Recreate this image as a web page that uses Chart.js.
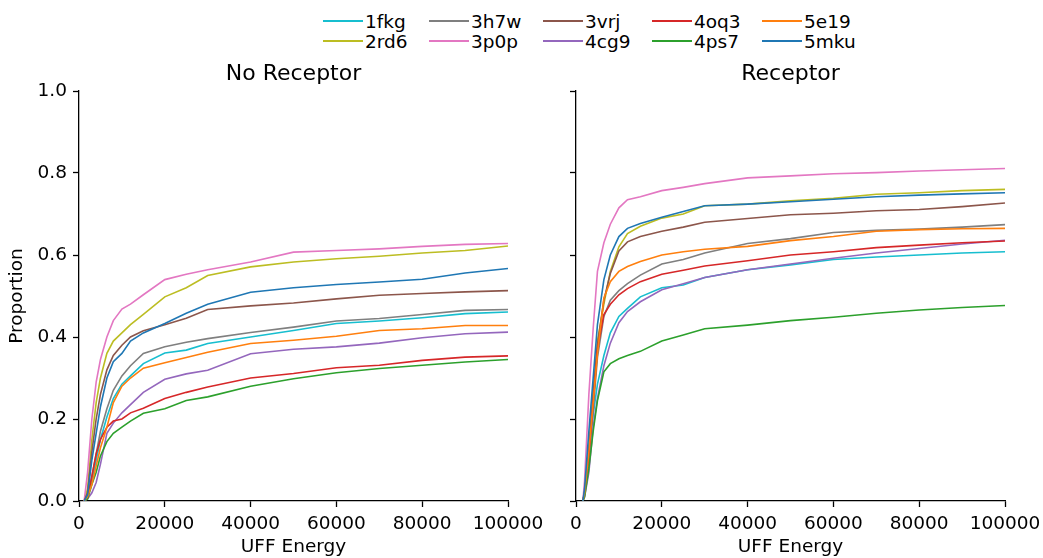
<!DOCTYPE html>
<html>
<head>
<meta charset="utf-8">
<script src="https://cdn.jsdelivr.net/npm/chart.js@4.4.1/dist/chart.umd.min.js"></script>
<style>
  html, body { margin:0; padding:0; background:#fff; }
  body { width:1043px; height:558px; position:relative; overflow:hidden; font-family:'DejaVu Sans', sans-serif; }
  .cv { position:absolute; }
  #legend { position:absolute; left:0; top:0; width:1043px; height:55px; }
  .lg { position:absolute; display:flex; align-items:center; height:20px; font-size:18.5px; color:#000; }
  .lg i { display:block; width:40px; height:2px; margin-right:2px; }
</style>
</head>
<body>
<div id="legend"></div>
<div class="cv" style="left:0;top:55px;width:560px;height:503px;"><canvas id="noRec"></canvas></div>
<div class="cv" style="left:545px;top:55px;width:520px;height:503px;"><canvas id="rec"></canvas></div>
<script>
const names  = ['1fkg','2rd6','3h7w','3p0p','3vrj','4cg9','4oq3','4ps7','5e19','5mku'];
const colors = ['#17becf','#bcbd22','#7f7f7f','#e377c2','#8c564b','#9467bd','#d62728','#2ca02c','#ff7f0e','#1f77b4'];

const energyNoRec = [1200,2000,3000,4000,5000,6500,8000,10000,12000,15000,20000,25000,30000,40000,50000,60000,70000,80000,90000,100000];
const energyRec   = [1600,2000,3000,4000,5000,6500,8000,10000,12000,15000,20000,25000,30000,40000,50000,60000,70000,80000,90000,100000];

// No Receptor
const noRec_1fkg = [0,0.01,0.05,0.10,0.15,0.205,0.25,0.285,0.305,0.335,0.361,0.368,0.384,0.400,0.416,0.433,0.439,0.447,0.457,0.461];
const noRec_2rd6 = [0,0.03,0.15,0.24,0.30,0.36,0.39,0.41,0.43,0.455,0.498,0.52,0.55,0.571,0.583,0.591,0.597,0.605,0.611,0.622];
const noRec_3h7w = [0,0.01,0.06,0.115,0.17,0.225,0.27,0.305,0.33,0.36,0.376,0.387,0.396,0.411,0.424,0.439,0.445,0.455,0.465,0.467];
const noRec_3p0p = [0,0.07,0.20,0.29,0.345,0.40,0.44,0.468,0.48,0.503,0.54,0.553,0.564,0.583,0.607,0.611,0.615,0.621,0.626,0.628];
const noRec_3vrj = [0,0.02,0.12,0.20,0.26,0.32,0.355,0.38,0.40,0.415,0.43,0.446,0.467,0.476,0.483,0.493,0.502,0.506,0.510,0.513];
const noRec_4cg9 = [0,0.005,0.02,0.045,0.09,0.165,0.19,0.215,0.235,0.265,0.297,0.31,0.319,0.359,0.370,0.376,0.385,0.398,0.408,0.412];
const noRec_4oq3 = [0,0.01,0.06,0.115,0.15,0.18,0.195,0.20,0.215,0.226,0.25,0.265,0.278,0.300,0.311,0.325,0.331,0.343,0.351,0.354];
const noRec_4ps7 = [0,0.005,0.04,0.07,0.11,0.145,0.165,0.18,0.195,0.214,0.225,0.245,0.254,0.280,0.298,0.313,0.323,0.331,0.339,0.345];
const noRec_5e19 = [0,0.01,0.04,0.085,0.13,0.18,0.24,0.28,0.30,0.324,0.337,0.35,0.363,0.384,0.392,0.402,0.416,0.420,0.428,0.428];
const noRec_5mku = [0,0.015,0.10,0.165,0.23,0.30,0.34,0.36,0.39,0.41,0.433,0.458,0.48,0.509,0.52,0.528,0.534,0.541,0.556,0.567];

// Receptor
const rec_1fkg = [0,0.015,0.11,0.21,0.285,0.355,0.41,0.45,0.47,0.498,0.52,0.527,0.545,0.564,0.576,0.589,0.595,0.600,0.605,0.608];
const rec_2rd6 = [0,0.02,0.13,0.27,0.39,0.48,0.56,0.62,0.652,0.67,0.69,0.70,0.72,0.724,0.732,0.738,0.748,0.752,0.757,0.76];
const rec_3h7w = [0,0.02,0.11,0.22,0.35,0.45,0.49,0.513,0.53,0.551,0.578,0.589,0.605,0.628,0.640,0.655,0.660,0.663,0.668,0.674];
const rec_3p0p = [0,0.05,0.26,0.42,0.56,0.63,0.675,0.715,0.735,0.742,0.757,0.765,0.774,0.788,0.793,0.798,0.801,0.805,0.808,0.811];
const rec_3vrj = [0,0.02,0.12,0.26,0.38,0.49,0.555,0.61,0.632,0.645,0.658,0.668,0.68,0.689,0.698,0.702,0.708,0.711,0.718,0.727];
const rec_4cg9 = [0,0.01,0.07,0.18,0.25,0.33,0.385,0.435,0.462,0.486,0.515,0.53,0.545,0.564,0.578,0.592,0.605,0.616,0.627,0.636];
const rec_4oq3 = [0,0.02,0.11,0.24,0.37,0.455,0.48,0.503,0.518,0.535,0.553,0.563,0.573,0.586,0.600,0.608,0.618,0.624,0.630,0.634];
const rec_4ps7 = [0,0.01,0.08,0.17,0.245,0.315,0.335,0.347,0.355,0.365,0.39,0.405,0.42,0.429,0.44,0.448,0.458,0.466,0.472,0.477];
const rec_5e19 = [0,0.02,0.12,0.24,0.36,0.495,0.535,0.56,0.572,0.584,0.600,0.608,0.614,0.621,0.635,0.645,0.658,0.662,0.664,0.665];
const rec_5mku = [0,0.03,0.17,0.30,0.43,0.54,0.60,0.645,0.665,0.677,0.692,0.706,0.72,0.724,0.73,0.736,0.742,0.746,0.749,0.752];

const noRecSeries = [noRec_1fkg,noRec_2rd6,noRec_3h7w,noRec_3p0p,noRec_3vrj,noRec_4cg9,noRec_4oq3,noRec_4ps7,noRec_5e19,noRec_5mku];
const recSeries   = [rec_1fkg,rec_2rd6,rec_3h7w,rec_3p0p,rec_3vrj,rec_4cg9,rec_4oq3,rec_4ps7,rec_5e19,rec_5mku];

const yTicks = [0,0.2,0.4,0.6,0.8,1.0];
const xTicks = [0,20000,40000,60000,80000,100000];

Chart.defaults.font.family = "'DejaVu Sans', sans-serif";
Chart.defaults.color = '#000';
Chart.defaults.animation = false;

// legend (matplotlib style, 5 columns x 2 rows, column-major)
const lgX = [323,429,543,652,762], lgY = [11,31];
document.getElementById('legend').innerHTML = names.map((n,i)=>`
  <div class="lg" style="left:${lgX[Math.floor(i/2)]}px;top:${lgY[i%2]}px"><i style="background:${colors[i]}"></i>${n}</div>`).join('');

function makeDatasets(energy, series) {
  return series.map((vals,i)=>({
    label:names[i], data:energy.map((e,j)=>({x:e,y:vals[j]})),
    borderColor:colors[i], backgroundColor:colors[i], borderWidth:1.6,
    pointRadius:0, tension:0, fill:false, order:names.length-i
  }));
}

function makeChart(id, title, energy, series, yWidth, showY, padRight) {
  return new Chart(document.getElementById(id), {
    type:'line',
    data:{ datasets: makeDatasets(energy, series) },
    options:{
      responsive:true, maintainAspectRatio:false,
      layout:{ padding:{ top:0, right:padRight, bottom:0, left:0 } },
      plugins:{
        legend:{display:false}, tooltip:{enabled:false},
        title:{ display:true, fullSize:false, text:title, font:{size:22, weight:'normal'}, color:'#000', padding:{top:6,bottom:3.6} }
      },
      scales:{
        x:{
          type:'linear', min:0, max:100000,
          afterBuildTicks: s => { s.ticks = xTicks.map(v=>({value:v})); },
          afterFit: s => { s.height = 57; },
          grid:{ drawOnChartArea:false, drawTicks:true, tickLength:6, tickColor:'#000', tickWidth:1.3 },
          border:{ display:true, color:'#000', width:1.3 },
          ticks:{ font:{size:18.5}, color:'#000', padding:6, maxRotation:0, callback: v => String(v) },
          title:{ display:true, text:'UFF Energy', font:{size:18.5}, color:'#000', padding:{top:0,bottom:0} }
        },
        y:{
          min:0, max:1,
          afterBuildTicks: s => { s.ticks = yTicks.map(v=>({value:v})); },
          afterFit: s => { s.width = yWidth; },
          grid:{ drawOnChartArea:false, drawTicks:true, tickLength:6, tickColor:'#000', tickWidth:1.3 },
          border:{ display:true, color:'#000', width:1.3 },
          ticks:{ font:{size:18.5}, color:'#000', padding:6, callback: v => showY ? v.toFixed(1) : '' },
          title:{ display:showY, text:'Proportion', font:{size:18.5}, color:'#000', padding:{top:6} }
        }
      }
    }
  });
}

makeChart('noRec', 'No Receptor', energyNoRec, noRecSeries, 79, true, 52);
makeChart('rec', 'Receptor', energyRec, recSeries, 31, false, 60);
</script>
</body>
</html>
